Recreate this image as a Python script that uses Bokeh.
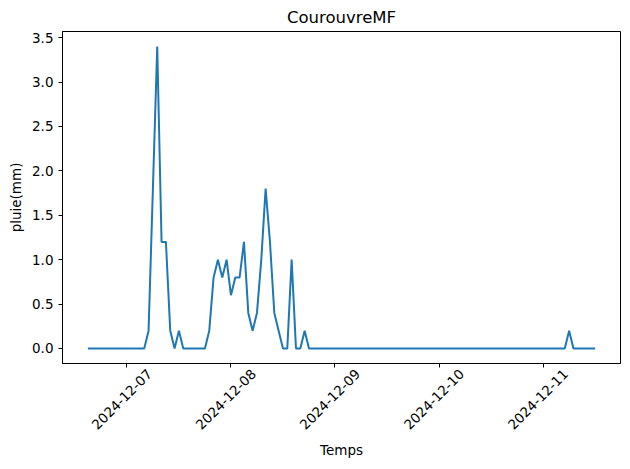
import math
import pandas as pd
from bokeh.plotting import figure
from bokeh.models import FixedTicker, NumeralTickFormatter, Range1d
from bokeh.embed import file_html
from bokeh.resources import INLINE

# ---- data ----
start_time = "2024-12-06 15:00"
rain_mm = [
    0, 0, 0, 0, 0, 0, 0, 0, 0,            # 15:00-23:00 Dec 6
    0, 0, 0, 0, 0, 0.2, 1.8, 3.4, 1.2, 1.2, 0.2, 0, 0.2, 0, 0, 0, 0, 0, 0, 0.2, 0.8, 1.0, 0.8, 1.0,  # Dec 7
    0.6, 0.8, 0.8, 1.2, 0.4, 0.2, 0.4, 1.0, 1.8, 1.2, 0.4, 0.2, 0, 0, 1.0, 0, 0, 0.2, 0, 0, 0, 0, 0, 0,  # Dec 8
    0, 0, 0, 0, 0, 0, 0, 0, 0, 0, 0, 0, 0, 0, 0, 0, 0, 0, 0, 0, 0, 0, 0, 0,  # Dec 9
    0, 0, 0, 0, 0, 0, 0, 0, 0, 0, 0, 0, 0, 0, 0, 0, 0, 0, 0, 0, 0, 0, 0, 0,  # Dec 10
    0, 0, 0, 0, 0, 0, 0.2, 0, 0, 0, 0, 0, 0,  # Dec 11 00:00-12:00
]
tick_dates = ["2024-12-07", "2024-12-08", "2024-12-09", "2024-12-10", "2024-12-11"]
y_ticks = [0.0, 0.5, 1.0, 1.5, 2.0, 2.5, 3.0, 3.5]

# style: horizontal offset so rotated labels are centred under their tick
LABEL_SHIFT = pd.Timedelta(hours=5.2)

times = pd.date_range(start=start_time, periods=len(rain_mm), freq="h")

t0 = times[0]
t1 = times[-1]
pad = (t1 - t0) * 0.05
ymin, ymax = min(rain_mm), max(rain_mm)
ypad = (ymax - ymin) * 0.05

p = figure(width=630, height=469, x_axis_type="datetime", output_backend="svg",
           toolbar_location=None,
           x_range=Range1d(t0 - pad, t1 + pad),
           y_range=Range1d(ymin - ypad, ymax + ypad),
           min_border_left=62, min_border_right=10, min_border_top=4, min_border_bottom=106)

p.line(times, rain_mm, line_color="#1f77b4", line_width=2)

p.title.text = "CourouvreMF"
p.title.align = "center"
p.title.text_font = "DejaVu Sans"
p.title.text_font_size = "16.5px"
p.title.text_font_style = "normal"
p.title.text_color = "black"

p.grid.visible = False
p.outline_line_color = "black"
p.outline_line_width = 1

tick_ms = [float(pd.Timestamp(d).value // 10**6) for d in tick_dates]
label_ms = [float((pd.Timestamp(d) + LABEL_SHIFT).value // 10**6) for d in tick_dates]
p.xaxis.ticker = FixedTicker(ticks=label_ms, minor_ticks=tick_ms)
p.xaxis.major_label_overrides = {ms: lab for ms, lab in zip(label_ms, tick_dates)}
p.xaxis.major_label_orientation = math.pi / 4
p.xaxis.major_tick_line_color = None
p.xaxis.major_tick_out = 4
p.xaxis.major_tick_in = 0
p.xaxis.minor_tick_line_color = "black"
p.xaxis.minor_tick_out = 4
p.xaxis.minor_tick_in = 0
p.xaxis.major_label_standoff = 4

p.yaxis.ticker = FixedTicker(ticks=y_ticks)
p.yaxis.formatter = NumeralTickFormatter(format="0.0")
p.yaxis.major_tick_line_color = "black"
p.yaxis.minor_tick_line_color = None
p.yaxis.major_tick_in = 0
p.yaxis.major_tick_out = 4

for ax in (p.xaxis, p.yaxis):
    ax.axis_line_color = "black"
    ax.major_label_text_font = "DejaVu Sans"
    ax.major_label_text_font_size = "13.5px"
    ax.major_label_text_color = "black"
    ax.axis_label_text_font = "DejaVu Sans"
    ax.axis_label_text_font_size = "13.5px"
    ax.axis_label_text_font_style = "normal"
    ax.axis_label_text_color = "black"

p.xaxis.axis_label = "Temps"
p.yaxis.axis_label = "pluie(mm)"

open("out.html", "w").write(file_html(p, INLINE))
